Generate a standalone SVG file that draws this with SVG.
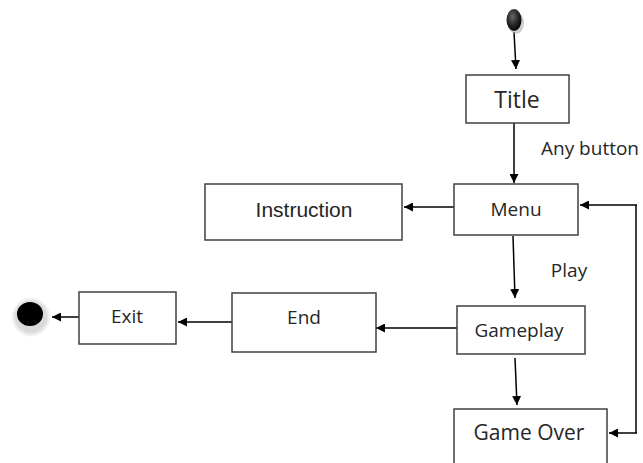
<svg xmlns="http://www.w3.org/2000/svg" width="643" height="463" viewBox="0 0 643 463">
<defs>
<style>
.box{fill:#fff;stroke:#404040;stroke-width:1.5}
.lbl{font-family:"Open Sans","Noto Sans",sans-serif;font-size:19px;fill:#262626;text-anchor:middle}
.ln{stroke:#000;stroke-width:1.5;fill:none}
</style>
<marker id="ah" viewBox="0 0 10 10" refX="10" refY="5" markerWidth="9" markerHeight="9" markerUnits="userSpaceOnUse" orient="auto">
<path d="M0,0 L10,5 L0,10 z" fill="#000"/>
</marker>
<radialGradient id="ig" cx="0.4" cy="0.35" r="0.7">
<stop offset="0" stop-color="#666"/>
<stop offset="0.6" stop-color="#222"/>
<stop offset="1" stop-color="#000"/>
</radialGradient>
<radialGradient id="halo" cx="0.5" cy="0.5" r="0.5">
<stop offset="0.7" stop-color="#d9d9d9"/>
<stop offset="0.85" stop-color="#eee"/>
<stop offset="1" stop-color="#fff" stop-opacity="0"/>
</radialGradient>
</defs>
<rect width="643" height="463" fill="#fff"/>
<g id="connectors">
<line class="ln" x1="514" y1="32" x2="516" y2="69" marker-end="url(#ah)"/>
<line class="ln" x1="514" y1="123" x2="514" y2="183" marker-end="url(#ah)"/>
<line class="ln" x1="454" y1="207" x2="404" y2="207" marker-end="url(#ah)"/>
<line class="ln" x1="513" y1="236" x2="515" y2="298" marker-end="url(#ah)"/>
<line class="ln" x1="457" y1="328" x2="376" y2="328" marker-end="url(#ah)"/>
<line class="ln" x1="515" y1="358" x2="517" y2="405" marker-end="url(#ah)"/>
<line class="ln" x1="232" y1="322" x2="178" y2="322" marker-end="url(#ah)"/>
<line class="ln" x1="79" y1="317" x2="52" y2="317" marker-end="url(#ah)"/>
<line class="ln" x1="636" y1="205" x2="636" y2="433"/>
<line class="ln" x1="637" y1="205" x2="580" y2="205" marker-end="url(#ah)"/>
<line class="ln" x1="637" y1="433" x2="609" y2="433" marker-end="url(#ah)"/>
</g>
<g id="start">
<ellipse cx="516" cy="23" rx="8" ry="11" fill="#aaa" opacity="0.6"/>
<ellipse cx="514" cy="20" rx="7.5" ry="11" fill="url(#ig)"/>
</g>
<g id="title">
<rect class="box" x="466" y="75" width="103" height="48"/>
<text class="lbl" x="517" y="108" style="font-size:23px">Title</text>
</g>
<g id="anybutton">
<text class="lbl" x="590" y="155">Any button</text>
</g>
<g id="menu">
<rect class="box" x="454" y="184" width="124" height="51"/>
<text class="lbl" x="516" y="216">Menu</text>
</g>
<g id="instruction">
<rect class="box" x="205" y="184" width="197" height="56"/>
<text x="304" y="217" style="font-family:'Liberation Sans',Arial,sans-serif;font-size:21px;fill:#262626;text-anchor:middle">Instruction</text>
</g>
<g id="play">
<text class="lbl" x="569" y="277">Play</text>
</g>
<g id="gameplay">
<rect class="box" x="457" y="306" width="128" height="48"/>
<text class="lbl" x="519" y="337">Gameplay</text>
</g>
<g id="gameover">
<rect class="box" x="454" y="409" width="153" height="60"/>
<text class="lbl" x="529" y="440" style="font-size:21px">Game Over</text>
</g>
<g id="end">
<rect class="box" x="232" y="293" width="144" height="59"/>
<text class="lbl" x="304" y="324">End</text>
</g>
<g id="exit">
<rect class="box" x="79" y="292" width="97" height="52"/>
<text class="lbl" x="127" y="323">Exit</text>
</g>
<g id="final">
<circle cx="31" cy="317" r="21" fill="url(#halo)"/>
<ellipse cx="30" cy="314" rx="13" ry="12" fill="#000"/>
</g>
</svg>
